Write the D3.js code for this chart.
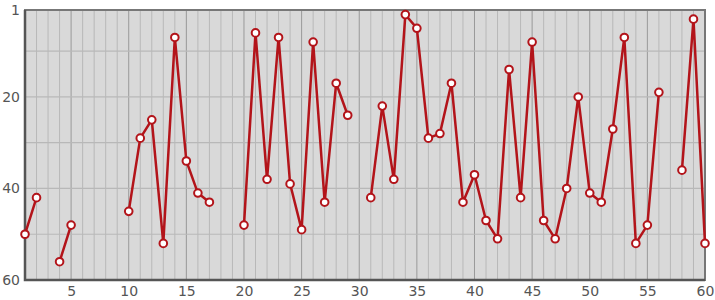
<!DOCTYPE html>
<html>
<head>
<meta charset="utf-8">
<script src="https://cdn.jsdelivr.net/npm/d3@7"></script>
<style>
  body { margin: 0; background: #fff; }
  text { font-family: "DejaVu Sans", sans-serif; font-size: 14px; fill: #555; }
</style>
</head>
<body>
<svg id="chart" width="715" height="300"></svg>
<script>
// datos
const xs = d3.range(1, 61);
const ranks = [50, 42, null, 56, 48, null, null, null, null, 45,
               29, 25, 52, 7, 34, 41, 43, null, null, 48,
               6, 38, 7, 39, 49, 8, 43, 17, 24, null,
               42, 22, 38, 2, 5, 29, 28, 17, 43, 37,
               47, 51, 14, 42, 8, 47, 51, 40, 20, 41,
               43, 27, 7, 52, 48, 19, null, 36, 3, 52];
const xTicks = [5, 10, 15, 20, 25, 30, 35, 40, 45, 50, 55, 60];
const yTicks = [1, 20, 40, 60];
const yGrid = [10, 20, 30, 40, 50];

const svg = d3.select('#chart');
const m = { l: 25, r: 10, t: 10, b: 20 };
const W = 715, H = 300;

const x = d3.scaleLinear().domain([1, 60]).range([m.l, W - m.r]);
const y = d3.scaleLinear().domain([1, 60]).range([m.t, H - m.b]);

// fondo
svg.append('rect')
    .attr('x', m.l).attr('y', m.t)
    .attr('width', W - m.r - m.l).attr('height', H - m.b - m.t)
    .attr('fill', '#d9d9d9');

// rejilla vertical
svg.append('g').selectAll('line')
    .data(xs)
    .enter().append('line')
    .attr('x1', d => x(d)).attr('x2', d => x(d))
    .attr('y1', m.t).attr('y2', H - m.b)
    .attr('stroke', d => d % 5 === 0 ? '#999' : '#b8b8b8')
    .attr('stroke-width', 1);

// rejilla horizontal
svg.append('g').selectAll('line')
    .data(yGrid)
    .enter().append('line')
    .attr('x1', m.l).attr('x2', W - m.r)
    .attr('y1', d => y(d)).attr('y2', d => y(d))
    .attr('stroke', '#b8b8b8')
    .attr('stroke-width', 1.2);

// marco
svg.append('rect')
    .attr('x', m.l).attr('y', m.t)
    .attr('width', W - m.r - m.l).attr('height', H - m.b - m.t)
    .attr('fill', 'none')
    .attr('stroke', '#777')
    .attr('stroke-width', 2);
svg.append('path')
    .attr('d', `M${m.l},${m.t} L${m.l},${H - m.b} L${W - m.r},${H - m.b}`)
    .attr('fill', 'none')
    .attr('stroke', '#555')
    .attr('stroke-width', 2.5);

// ejes
const xAxis = d3.axisBottom(x).tickValues(xTicks).tickSize(0).tickPadding(6);
svg.append('g')
    .attr('transform', `translate(0,${H - m.b})`)
    .call(xAxis)
    .call(g => g.select('.domain').remove())
    .selectAll('text')
    .attr('font-size', 14).attr('fill', '#555')
    .attr('font-family', '"DejaVu Sans", sans-serif');

const yAxis = d3.axisLeft(y).tickValues(yTicks).tickSize(0).tickPadding(5);
svg.append('g')
    .attr('transform', `translate(${m.l},0)`)
    .call(yAxis)
    .call(g => g.select('.domain').remove())
    .selectAll('text')
    .attr('font-size', 14).attr('fill', '#555')
    .attr('font-family', '"DejaVu Sans", sans-serif');

// serie
const pts = xs.map((d, i) => ({ x: d, v: ranks[i] }));
const line = d3.line()
    .defined(d => d.v !== null)
    .x(d => x(d.x)).y(d => y(d.v));

svg.append('path')
    .datum(pts)
    .attr('d', line)
    .attr('fill', 'none')
    .attr('stroke', '#b3141a')
    .attr('stroke-width', 2.5)
    .attr('stroke-linejoin', 'miter');

svg.append('g').selectAll('circle')
    .data(pts.filter(d => d.v !== null))
    .enter().append('circle')
    .attr('cx', d => x(d.x))
    .attr('cy', d => y(d.v))
    .attr('r', 3.8)
    .attr('fill', '#fff')
    .attr('stroke', '#b3141a')
    .attr('stroke-width', 2);
</script>
</body>
</html>
